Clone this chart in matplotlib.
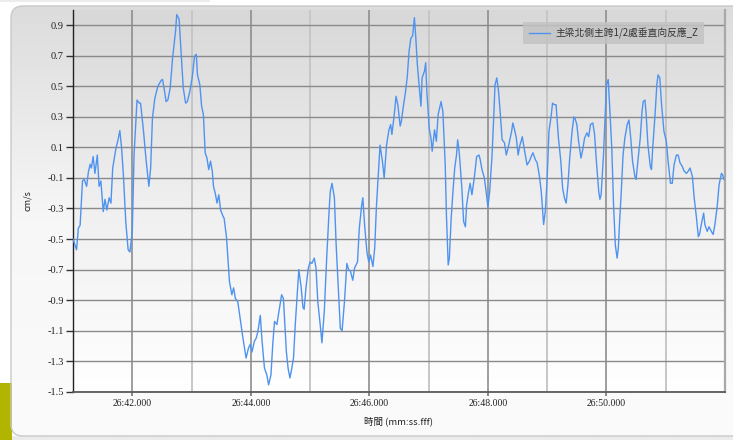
import numpy as np
import matplotlib
matplotlib.use("Agg")
import matplotlib.pyplot as plt
from matplotlib.patches import FancyBboxPatch, Rectangle
from matplotlib.colors import LinearSegmentedColormap

# 時刻 (26 分の秒) と応答値 cm/s
t_sec = [
    41.00, 41.06, 41.09, 41.12, 41.16, 41.19, 41.23, 41.26, 41.29, 41.31,
    41.34, 41.37, 41.41, 41.44, 41.47, 41.51, 41.54, 41.57, 41.61, 41.64,
    41.67, 41.72, 41.76, 41.79, 41.82, 41.85, 41.89, 41.93, 41.96, 42.00,
    42.03, 42.08, 42.12, 42.14, 42.19, 42.23, 42.28, 42.31, 42.34, 42.38,
    42.43, 42.46, 42.49, 42.51, 42.54, 42.57, 42.60, 42.64, 42.68, 42.73,
    42.75, 42.79, 42.82, 42.86, 42.90, 42.93, 42.97, 43.01, 43.05, 43.08,
    43.10, 43.14, 43.17, 43.20, 43.23, 43.26, 43.29, 43.32, 43.35, 43.37,
    43.40, 43.43, 43.46, 43.49, 43.53, 43.55, 43.59, 43.64, 43.68, 43.71,
    43.74, 43.78, 43.82, 43.86, 43.92, 43.96, 43.99, 44.02, 44.06, 44.09,
    44.12, 44.16, 44.19, 44.23, 44.27, 44.30, 44.34, 44.37, 44.40, 44.44,
    44.47, 44.52, 44.55, 44.60, 44.63, 44.66, 44.69, 44.72, 44.75, 44.79,
    44.81, 44.85, 44.88, 44.90, 44.93, 44.97, 45.00, 45.03, 45.07, 45.10,
    45.13, 45.17, 45.20, 45.24, 45.28, 45.32, 45.34, 45.37, 45.41, 45.44,
    45.48, 45.51, 45.54, 45.58, 45.62, 45.65, 45.68, 45.72, 45.75, 45.80,
    45.83, 45.87, 45.89, 45.92, 45.96, 45.99, 46.02, 46.06, 46.09, 46.12,
    46.16, 46.18, 46.22, 46.25, 46.29, 46.33, 46.36, 46.38, 46.42, 46.45,
    46.48, 46.52, 46.54, 46.57, 46.61, 46.64, 46.67, 46.70, 46.73, 46.76,
    46.78, 46.81, 46.85, 46.87, 46.89, 46.93, 46.95, 46.97, 47.01, 47.04,
    47.06, 47.10, 47.13, 47.16, 47.21, 47.24, 47.28, 47.30, 47.33, 47.35,
    47.38, 47.41, 47.44, 47.47, 47.49, 47.52, 47.56, 47.59, 47.62, 47.64,
    47.67, 47.70, 47.73, 47.77, 47.81, 47.85, 47.87, 47.90, 47.94, 47.97,
    48.00, 48.03, 48.07, 48.10, 48.12, 48.15, 48.18, 48.21, 48.24, 48.28,
    48.31, 48.34, 48.37, 48.40, 48.42, 48.45, 48.48, 48.51, 48.54, 48.56,
    48.58, 48.62, 48.66, 48.70, 48.73, 48.76, 48.80, 48.83, 48.87, 48.90,
    48.92, 48.94, 48.97, 49.00, 49.03, 49.07, 49.09, 49.12, 49.15, 49.17,
    49.19, 49.23, 49.26, 49.29, 49.32, 49.35, 49.38, 49.42, 49.45, 49.47,
    49.50, 49.53, 49.57, 49.60, 49.63, 49.67, 49.70, 49.73, 49.77, 49.80,
    49.83, 49.87, 49.89, 49.91, 49.95, 49.98, 50.00, 50.03, 50.05, 50.09,
    50.12, 50.15, 50.18, 50.20, 50.22, 50.25, 50.28, 50.31, 50.35, 50.38,
    50.41, 50.44, 50.48, 50.50, 50.53, 50.57, 50.60, 50.62, 50.65, 50.67,
    50.70, 50.74, 50.76, 50.78, 50.82, 50.85, 50.87, 50.90, 50.93, 50.97,
    51.01, 51.04, 51.08, 51.11, 51.14, 51.18, 51.21, 51.24, 51.28, 51.31,
    51.35, 51.38, 51.41, 51.45, 51.48, 51.52, 51.55, 51.57, 51.61, 51.64,
    51.66, 51.70, 51.73, 51.77, 51.80, 51.83, 51.87, 51.90, 51.94, 51.96,
    51.98,
]
resp = [
    -0.50, -0.57, -0.43, -0.41, -0.12, -0.11, -0.155, -0.06, -0.01, -0.035,
    0.04, -0.07, 0.05, -0.155, -0.12, -0.32, -0.24, -0.31, -0.23, -0.265,
    -0.035, 0.085, 0.15, 0.21, 0.095, -0.08, -0.385, -0.57, -0.585, -0.45,
    0.05, 0.41, 0.39, 0.39, 0.205, 0.03, -0.155, -0.035, 0.29, 0.42,
    0.50, 0.52, 0.54, 0.545, 0.48, 0.40, 0.41, 0.49, 0.685, 0.86,
    0.97, 0.94, 0.75, 0.49, 0.39, 0.40, 0.465, 0.555, 0.695, 0.71,
    0.575, 0.51, 0.37, 0.315, 0.065, 0.03, -0.045, 0.01, -0.055, -0.155,
    -0.20, -0.265, -0.21, -0.31, -0.35, -0.365, -0.49, -0.78, -0.865, -0.82,
    -0.89, -0.91, -1.02, -1.13, -1.28, -1.215, -1.19, -1.24, -1.17, -1.15,
    -1.105, -1.00, -1.17, -1.345, -1.39, -1.455, -1.39, -1.19, -1.04, -1.06,
    -0.985, -0.865, -0.89, -1.24, -1.35, -1.41, -1.35, -1.28, -1.06, -0.82,
    -0.70, -0.82, -0.95, -0.96, -0.82, -0.69, -0.65, -0.66, -0.625, -0.69,
    -0.91, -1.06, -1.18, -0.97, -0.625, -0.32, -0.19, -0.135, -0.23, -0.54,
    -0.845, -1.085, -1.10, -0.91, -0.66, -0.70, -0.71, -0.77, -0.69, -0.65,
    -0.43, -0.28, -0.23, -0.41, -0.59, -0.65, -0.605, -0.68, -0.56, -0.28,
    -0.015, 0.115, 0.01, -0.10, 0.115, 0.215, 0.25, 0.185, 0.315, 0.435,
    0.38, 0.24, 0.27, 0.36, 0.465, 0.565, 0.73, 0.815, 0.83, 0.95,
    0.84, 0.64, 0.465, 0.37, 0.555, 0.60, 0.655, 0.465, 0.225, 0.16,
    0.075, 0.215, 0.14, 0.315, 0.40, 0.335, -0.015, -0.34, -0.67, -0.625,
    -0.365, -0.19, -0.035, 0.05, 0.15, 0.05, -0.165, -0.385, -0.42, -0.28,
    -0.20, -0.135, -0.21, -0.10, 0.04, 0.05, 0.02, -0.045, -0.10, -0.19,
    -0.29, -0.19, 0.05, 0.315, 0.51, 0.555, 0.465, 0.315, 0.15, 0.13,
    0.05, 0.095, 0.15, 0.205, 0.26, 0.215, 0.16, 0.05, 0.115, 0.14,
    0.17, 0.075, -0.015, 0.01, 0.04, 0.065, 0.02, 0.00, -0.09, -0.19,
    -0.30, -0.405, -0.31, -0.10, 0.205, 0.315, 0.39, 0.38, 0.38, 0.27,
    0.16, 0.01, -0.165, -0.23, -0.265, -0.145, 0.03, 0.205, 0.30, 0.29,
    0.25, 0.14, 0.03, 0.085, 0.16, 0.195, 0.17, 0.25, 0.26, 0.185,
    0.01, -0.19, -0.24, -0.21, 0.05, 0.335, 0.51, 0.545, 0.40, 0.095,
    -0.28, -0.54, -0.625, -0.56, -0.40, -0.19, 0.05, 0.16, 0.25, 0.28,
    0.16, 0.01, -0.09, -0.11, 0.01, 0.16, 0.335, 0.40, 0.41, 0.315,
    0.115, -0.025, -0.045, 0.095, 0.315, 0.51, 0.575, 0.555, 0.38, 0.205,
    0.14, 0.01, -0.135, -0.135, -0.015, 0.05, 0.05, 0.00, -0.025, -0.055,
    -0.07, -0.055, -0.035, -0.09, -0.23, -0.365, -0.485, -0.47, -0.385, -0.33,
    -0.405, -0.45, -0.42, -0.45, -0.47, -0.405, -0.28, -0.145, -0.07, -0.08,
    -0.11,
]

x_ticks = [42, 44, 46, 48, 50]
x_tick_labels = ["26:42.000", "26:44.000", "26:46.000", "26:48.000", "26:50.000"]
x_minor = [41, 43, 45, 47, 49, 51]
y_ticks = [0.9, 0.7, 0.5, 0.3, 0.1, -0.1, -0.3, -0.5, -0.7, -0.9, -1.1, -1.3, -1.5]
y_tick_labels = ["0.9", "0.7", "0.5", "0.3", "0.1", "-0.1", "-0.3", "-0.5",
                 "-0.7", "-0.9", "-1.1", "-1.3", "-1.5"]
series_name = "主梁北側主跨1/2處垂直向反應_Z"

cjk = ["Noto Sans CJK TC", "DejaVu Sans"]
num_font = "Liberation Serif"

W, H = 733, 440
fig = plt.figure(figsize=(W / 100, H / 100), dpi=100)
fig.patch.set_facecolor("white")

# 外枠のパネル (角丸 + グラデーション)
bg = fig.add_axes([0, 0, 1, 1])
bg.set_xlim(0, W)
bg.set_ylim(H, 0)
bg.axis("off")
bg.add_patch(Rectangle((0, 0), 210, 2.5, color="#ececec", lw=0))
bg.add_patch(Rectangle((0, 436), W, 4, color="#ebebeb", lw=0))
bg.add_patch(Rectangle((0, 383), 12, 57, color="#b2b500", lw=0))
panel = FancyBboxPatch((11, 6), W + 20, 430,
                       boxstyle="round,pad=0,rounding_size=12",
                       facecolor="none", edgecolor="#c9c9c9", lw=1.0)
bg.add_patch(panel)
panel_cmap = LinearSegmentedColormap.from_list("panel", ["#dcdcdc", "#f7f7f7", "#fbfbfb"])
grad = np.linspace(0, 1, 256).reshape(-1, 1)
img = bg.imshow(grad, cmap=panel_cmap, extent=(11, W + 20, 436, 6),
                aspect="auto", zorder=0)
img.set_clip_path(panel)

# グラフ本体
left, right, top, bottom = 73, 725, 10, 391.7
ax = fig.add_axes([left / W, (H - bottom) / H, (right - left) / W, (bottom - top) / H])
ax.set_facecolor("none")
plot_cmap = LinearSegmentedColormap.from_list("plot", ["#d8d8d8", "#efefef", "#ffffff"])
ax.imshow(grad, cmap=plot_cmap, extent=(41, 52, -1.5, 1.0), aspect="auto", zorder=0)

ax.plot(t_sec, resp, color="#4f93f0", lw=1.0, label=series_name, zorder=3)

ax.set_xlim(41, 52)
ax.set_ylim(-1.5, 1.0)

ax.set_xticks(x_ticks)
ax.set_xticklabels(x_tick_labels, fontfamily=num_font, fontsize=7)
ax.set_xticks(x_minor, minor=True)
ax.set_yticks(y_ticks)
ax.set_yticklabels(y_tick_labels, fontfamily=num_font, fontsize=7.5)

ax.grid(True, which="major", axis="x", color="#8e8e8e", lw=1.2, zorder=1)
ax.grid(True, which="minor", axis="x", color="#c6c6c6", lw=1.4, zorder=1)
ax.grid(True, which="major", axis="y", color="#8a8a8a", lw=1.0, zorder=1)
ax.set_axisbelow(True)

ax.tick_params(axis="y", which="major", length=5, width=1, color="#333333", pad=1.5, labelcolor="#222222")
ax.tick_params(axis="x", which="major", length=3, width=1.2, color="#777777", pad=2, labelcolor="#222222")
ax.tick_params(axis="x", which="minor", length=0)

ax.spines["top"].set_visible(False)
ax.spines["left"].set_color("#222222")
ax.spines["left"].set_linewidth(1.0)
ax.spines["bottom"].set_color("#5a5a5a")
ax.spines["bottom"].set_linewidth(1.3)
ax.spines["right"].set_color("#a8a8a8")
ax.spines["right"].set_linewidth(1.6)

ax.set_xlabel("時間 (mm:ss.fff)", fontfamily=cjk, fontsize=6.8, color="#222222", labelpad=6)
ax.set_ylabel("cm/s", fontfamily=cjk, fontsize=6.5, color="#222222", labelpad=11)

leg = ax.legend(loc="upper right", bbox_to_anchor=((704 - left) / (right - left), (bottom - 22) / (bottom - top)),
                borderaxespad=0, frameon=True, fancybox=False, framealpha=0.85,
                handlelength=2.2, handletextpad=0.6, borderpad=0.55,
                prop={"family": cjk, "size": 7})
leg.get_frame().set_facecolor("#c3c3c3")
leg.get_frame().set_edgecolor("none")
for txt in leg.get_texts():
    txt.set_color("#333333")

fig.savefig("out.png", dpi=100)
